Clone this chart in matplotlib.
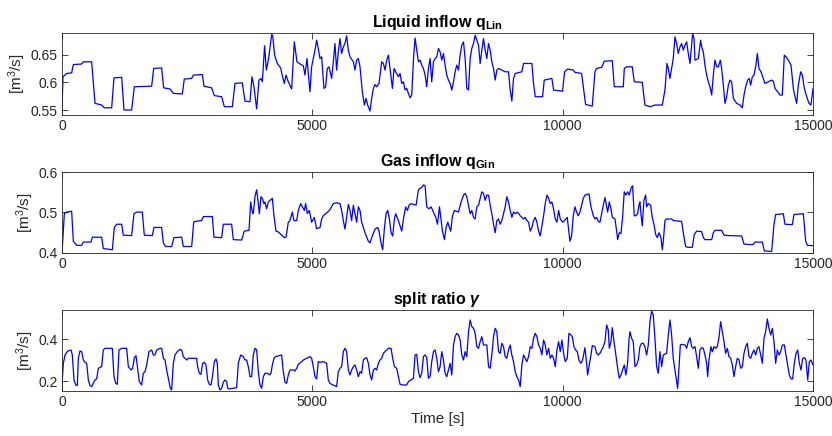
import matplotlib
matplotlib.use('Agg')
import matplotlib.pyplot as plt

plt.rcParams['font.family'] = ['Liberation Sans', 'DejaVu Sans']
plt.rcParams['mathtext.fontset'] = 'custom'
plt.rcParams['mathtext.rm'] = 'Liberation Sans'
plt.rcParams['mathtext.it'] = 'Liberation Sans:italic'
plt.rcParams['mathtext.bf'] = 'Liberation Sans:bold'
plt.rcParams['mathtext.bfit'] = 'Liberation Sans:italic:bold'

# ---------------- data ----------------
t_liq = [0, 20, 93, 193, 226, 393, 426, 592, 659, 792, 845, 992, 1038, 1192, 1238, 1391,
         1445, 1791, 1831, 1990, 2030, 2157, 2223, 2403, 2443, 2590, 2623, 2803, 2836, 2989,
         3042, 3189, 3242, 3402, 3455, 3601, 3655, 3755, 3794, 3834, 3888, 3934, 3974, 4001,
         4047, 4081, 4127, 4187, 4207, 4247, 4300, 4367, 4400, 4440, 4474, 4520, 4587, 4640,
         4693, 4773, 4820, 4853, 4893, 4953, 4986, 5053,
         5086, 5119, 5153, 5186, 5232, 5266, 5299, 5332, 5386, 5419, 5452, 5485, 5519, 5552,
         5585, 5619, 5652, 5685, 5719, 5752, 5819, 5852, 5885, 5919, 5952, 5999, 6039, 6072,
         6105, 6152, 6185, 6219, 6252, 6285, 6332, 6385, 6419, 6452, 6485, 6519, 6552, 6599,
         6632, 6665, 6719, 6752, 6785, 6819, 6852, 6885, 6919, 6952, 6985, 7025, 7052, 7085,
         7119, 7152, 7185, 7219, 7252, 7285, 7319, 7352, 7385, 7419, 7452, 7485, 7519, 7552,
         7585, 7619, 7652, 7685, 7719, 7752, 7785, 7819, 7852, 7885, 7919, 7952, 7985, 8019,
         8052, 8085, 8119, 8152, 8185, 8219, 8252, 8285, 8319, 8352, 8385, 8419, 8452, 8485,
         8519, 8552, 8585, 8619, 8652, 8685, 8719, 8852, 8918, 8952, 8985, 9018, 9052, 9185,
         9218, 9385, 9418, 9452, 9598, 9632, 9785, 9818, 9998, 10038,
         10099, 10212, 10245, 10378, 10412, 10458, 10591, 10645, 10678, 10778, 10831, 10991,
         11031, 11211, 11231, 11277, 11390, 11430, 11590, 11643, 11743, 11843, 11990, 12043,
         12083, 12110, 12143, 12176, 12209, 12243, 12276, 12309, 12343, 12376, 12409, 12443,
         12476, 12509, 12543, 12576, 12596, 12623, 12643, 12709, 12756, 12776, 12809, 12842,
         12876, 12909, 12942, 12976, 13009, 13042, 13076, 13109, 13149, 13175, 13209, 13242,
         13275, 13309, 13342, 13375, 13409, 13475, 13542, 13588, 13622, 13655, 13695, 13728,
         13755, 13788, 13821, 13861, 13888, 13921, 13961, 14008, 14041, 14108, 14174, 14208,
         14241, 14294, 14341, 14387, 14427, 14461, 14507, 14561, 14607, 14640, 14674, 14707,
         14754, 14787, 14827, 14874, 14920, 14960, 15000]
q_liq = [0.553, 0.610, 0.616, 0.617, 0.632, 0.633, 0.637, 0.637, 0.562, 0.559, 0.554, 0.554,
         0.608, 0.609, 0.550, 0.550, 0.592, 0.593, 0.625, 0.626, 0.590, 0.588, 0.580, 0.579,
         0.606, 0.607, 0.613, 0.614, 0.593, 0.590, 0.576, 0.574, 0.556, 0.556, 0.598, 0.599,
         0.566, 0.565, 0.610, 0.592, 0.552, 0.604, 0.607, 0.601, 0.666, 0.622, 0.643, 0.686,
         0.685, 0.649, 0.634, 0.626, 0.612, 0.598, 0.613, 0.601, 0.588, 0.673, 0.637, 0.632,
         0.630, 0.613, 0.643, 0.583, 0.628, 0.658,
         0.676, 0.661, 0.643, 0.646, 0.589, 0.592, 0.625, 0.628, 0.607, 0.637, 0.670, 0.622,
         0.655, 0.679, 0.652, 0.664, 0.670, 0.684, 0.658, 0.646, 0.637, 0.622, 0.640, 0.643,
         0.628, 0.583, 0.559, 0.571, 0.559, 0.548, 0.571, 0.589, 0.596, 0.592, 0.598, 0.637,
         0.634, 0.622, 0.640, 0.649, 0.625, 0.589, 0.625, 0.619, 0.610, 0.616, 0.598, 0.601,
         0.586, 0.589, 0.580, 0.572, 0.577, 0.649, 0.680, 0.658, 0.637, 0.640, 0.631, 0.625,
         0.613, 0.592, 0.625, 0.643, 0.601, 0.637, 0.643, 0.646, 0.661, 0.655, 0.640, 0.652,
         0.631, 0.613, 0.604, 0.598, 0.586, 0.601, 0.619, 0.631, 0.622, 0.649, 0.667, 0.673,
         0.643, 0.589, 0.586, 0.643, 0.661, 0.670, 0.685, 0.676, 0.667, 0.634, 0.658, 0.679,
         0.658, 0.643, 0.670, 0.658, 0.637, 0.625, 0.604, 0.622, 0.625, 0.619, 0.619, 0.586,
         0.566, 0.607, 0.616, 0.619, 0.634, 0.634, 0.598, 0.574, 0.574, 0.604, 0.607, 0.586,
         0.584, 0.619,
         0.624, 0.622, 0.618, 0.616, 0.592, 0.560, 0.557, 0.619, 0.625, 0.627, 0.638, 0.639,
         0.592, 0.592, 0.625, 0.628, 0.628, 0.601, 0.600, 0.559, 0.556, 0.559, 0.559, 0.586,
         0.634, 0.625, 0.607, 0.625, 0.643, 0.682, 0.670, 0.652, 0.664, 0.670, 0.658, 0.667,
         0.673, 0.652, 0.634, 0.667, 0.688, 0.679, 0.640, 0.643, 0.676, 0.664, 0.655, 0.631,
         0.613, 0.601, 0.592, 0.577, 0.613, 0.640, 0.628, 0.628, 0.640, 0.625, 0.595, 0.562,
         0.574, 0.595, 0.604, 0.601, 0.571, 0.562, 0.559, 0.554, 0.577, 0.592, 0.604, 0.607,
         0.595, 0.610, 0.613, 0.631, 0.652, 0.625, 0.619, 0.607, 0.598, 0.601, 0.604, 0.602,
         0.589, 0.583, 0.577, 0.577, 0.649, 0.646, 0.640, 0.631, 0.589, 0.574, 0.562, 0.595,
         0.619, 0.613, 0.589, 0.574, 0.562, 0.559, 0.589]

t_gas = [0, 47, 93, 193, 226, 293, 393, 426, 579, 606, 792, 825, 1005, 1045, 1092, 1192,
         1225, 1391, 1438, 1491, 1604, 1644, 1804, 1837, 1990, 2024, 2070, 2190, 2237, 2390,
         2423, 2590, 2630, 2656, 2789, 2823, 3002, 3036, 3189, 3222, 3388, 3422, 3588, 3641,
         3735, 3768, 3801, 3821, 3854, 3888, 3921, 3941, 3974, 4001, 4034, 4054, 4087, 4121,
         4174, 4201, 4234, 4274, 4320, 4387, 4440, 4474, 4520, 4553, 4600, 4633, 4687, 4720,
         4766, 4800, 4840, 4866, 4900, 4940, 4986, 5039,
         5086, 5153, 5186, 5219, 5266, 5306, 5352, 5419, 5485, 5552, 5585, 5619, 5652, 5685,
         5719, 5752, 5785, 5819, 5852, 5885, 5919, 5952, 5985, 6052, 6119, 6152, 6185, 6252,
         6305, 6332, 6372, 6405, 6438, 6472, 6505, 6539, 6572, 6605, 6639, 6665, 6719, 6785,
         6825, 6865, 6899, 6932, 6972, 7072, 7119, 7152, 7185, 7219, 7252, 7285, 7332, 7372,
         7419, 7465, 7499, 7539, 7565, 7599, 7639, 7672, 7705, 7739, 7765, 7799, 7839, 7919,
         7972, 8019, 8052, 8085, 8119, 8152, 8185, 8219, 8252, 8285, 8319, 8352, 8385, 8419,
         8452, 8485, 8519, 8552, 8585, 8619, 8652, 8685, 8719, 8752, 8785, 8819, 8852, 8885,
         8918, 8952, 8985, 9018, 9052, 9099, 9152, 9218, 9252, 9285, 9319, 9352, 9385, 9419,
         9452, 9485, 9519, 9552, 9585, 9619, 9652, 9685, 9719, 9752, 9785, 9818, 9852, 9885,
         9919, 9952, 9998, 10038,
         10092, 10145, 10178, 10212, 10245, 10278, 10312, 10345, 10378, 10412, 10445, 10525,
         10565, 10612, 10645, 10678, 10712, 10745, 10778, 10811, 10845, 10878, 10898, 10931,
         10965, 10991, 11045, 11078, 11098, 11131, 11164, 11197, 11230, 11264, 11297, 11330,
         11364, 11397, 11430, 11464, 11497, 11524, 11543, 11563, 11590, 11623, 11657, 11677,
         11710, 11757, 11790, 11823, 11857, 11890, 11923, 11963, 11990, 12010, 12043, 12076,
         12176, 12209, 12376, 12409, 12456, 12496, 12589, 12629, 12676, 12776, 12809, 12842,
         12976, 13009, 13042, 13175, 13222, 13309, 13575, 13622, 13708, 13808, 13841, 13988,
         14028, 14174, 14221, 14254, 14407, 14440, 14587, 14620, 14807, 14854, 14887, 15000]
q_gas = [0.400, 0.497, 0.501, 0.503, 0.429, 0.419, 0.419, 0.427, 0.427, 0.439, 0.439, 0.411,
         0.408, 0.463, 0.471, 0.471, 0.444, 0.443, 0.497, 0.501, 0.501, 0.444, 0.443, 0.463,
         0.463, 0.425, 0.416, 0.416, 0.438, 0.439, 0.416, 0.416, 0.476, 0.478, 0.480, 0.490,
         0.490, 0.439, 0.438, 0.471, 0.471, 0.433, 0.432, 0.454, 0.456, 0.526, 0.501, 0.497,
         0.539, 0.556, 0.522, 0.497, 0.539, 0.535, 0.522, 0.526, 0.509, 0.526, 0.532, 0.535,
         0.492, 0.454, 0.452, 0.444, 0.438, 0.439, 0.476, 0.480, 0.501, 0.480, 0.480, 0.505,
         0.522, 0.514, 0.505, 0.522, 0.497, 0.505, 0.476, 0.488,
         0.460, 0.463, 0.484, 0.492, 0.497, 0.501, 0.507, 0.522, 0.524, 0.522, 0.505, 0.480,
         0.459, 0.488, 0.520, 0.505, 0.480, 0.518, 0.497, 0.476, 0.514, 0.505, 0.476, 0.450,
         0.429, 0.425, 0.438, 0.459, 0.463, 0.454, 0.425, 0.408, 0.459, 0.497, 0.505, 0.484,
         0.450, 0.442, 0.484, 0.497, 0.480, 0.454, 0.488, 0.514, 0.505, 0.518, 0.522, 0.518,
         0.556, 0.560, 0.562, 0.568, 0.566, 0.514, 0.509, 0.514, 0.501, 0.488, 0.471, 0.514,
         0.488, 0.454, 0.433, 0.463, 0.476, 0.463, 0.454, 0.492, 0.505, 0.501, 0.526, 0.543,
         0.547, 0.539, 0.518, 0.497, 0.505, 0.488, 0.484, 0.514, 0.518, 0.535, 0.551, 0.547,
         0.530, 0.543, 0.543, 0.518, 0.497, 0.471, 0.450, 0.480, 0.484, 0.471, 0.480, 0.497,
         0.514, 0.539, 0.526, 0.505, 0.488, 0.501, 0.497, 0.501, 0.492, 0.484, 0.488, 0.480,
         0.476, 0.454, 0.463, 0.480, 0.488, 0.476, 0.454, 0.442, 0.467, 0.492, 0.522, 0.543,
         0.535, 0.522, 0.526, 0.509, 0.484, 0.476, 0.505, 0.484, 0.476, 0.480,
         0.488, 0.429, 0.442, 0.492, 0.514, 0.501, 0.492, 0.501, 0.518, 0.535, 0.543, 0.546,
         0.514, 0.492, 0.484, 0.488, 0.478, 0.476, 0.497, 0.518, 0.537, 0.514, 0.501, 0.526,
         0.509, 0.488, 0.484, 0.454, 0.433, 0.450, 0.448, 0.488, 0.551, 0.543, 0.551, 0.543,
         0.560, 0.566, 0.492, 0.492, 0.497, 0.518, 0.526, 0.497, 0.467, 0.530, 0.543, 0.514,
         0.522, 0.518, 0.488, 0.471, 0.446, 0.438, 0.450, 0.438, 0.408, 0.429, 0.480, 0.484,
         0.484, 0.480, 0.478, 0.450, 0.416, 0.414, 0.414, 0.446, 0.454, 0.453, 0.438, 0.433,
         0.433, 0.450, 0.456, 0.456, 0.444, 0.443, 0.442, 0.422, 0.421, 0.421, 0.427, 0.427,
         0.405, 0.404, 0.471, 0.495, 0.497, 0.471, 0.470, 0.495, 0.497, 0.429, 0.419, 0.418]

t_split = [0, 27, 60, 113, 180, 206, 240, 273, 306, 326, 359, 393, 426, 459, 493, 526, 559,
           592, 626, 659, 692, 726, 792, 825, 859, 1005, 1038, 1072, 1105, 1138, 1192, 1291,
           1325, 1378, 1411, 1445, 1478, 1511, 1544, 1591, 1624, 1658, 1691, 1737, 1791, 1824,
           1857, 1891, 1957, 1990, 2024, 2057, 2090, 2124, 2164, 2190, 2223, 2257, 2303, 2357,
           2390, 2423, 2490, 2523, 2689, 2709, 2743, 2776, 2809, 2843, 2876, 2909, 2942, 2976,
           3009, 3042, 3076, 3102, 3122, 3155, 3189, 3222, 3255, 3289, 3309, 3342, 3488, 3522,
           3568, 3621, 3655, 3688, 3721, 3755, 3788, 3821, 3854, 3888, 3921, 3954, 3988, 4021,
           4054, 4107, 4141, 4174, 4201, 4234, 4267, 4387, 4420, 4454, 4487, 4520, 4553, 4620,
           4653, 4687, 4720, 4786, 4820, 4886, 4953, 4986, 5019, 5053,
           5086, 5119, 5153, 5219, 5286, 5319, 5352, 5386, 5485, 5519, 5552, 5585, 5619, 5652,
           5685, 5719, 5752, 5785, 5819, 5852, 5885, 5919, 5952, 5985, 6019, 6052, 6085, 6119,
           6152, 6185, 6219, 6252, 6285, 6319, 6352, 6385, 6419, 6452, 6485, 6519, 6572, 6605,
           6639, 6685, 6719, 6752, 6799, 6885, 6919, 6972, 7019, 7052, 7085, 7119, 7152, 7185,
           7219, 7252, 7285, 7319, 7352, 7385, 7419, 7452, 7485, 7519, 7552, 7585, 7619, 7652,
           7685, 7719, 7752, 7785, 7819, 7852, 7885, 7919, 7952, 7985, 8019, 8052, 8085, 8119,
           8152, 8185, 8219, 8252, 8285, 8319, 8352, 8385, 8419, 8485, 8519, 8552, 8585, 8619,
           8652, 8685, 8719, 8752, 8785, 8819, 8852, 8885, 8918, 8952, 8985, 9018, 9052, 9085,
           9119, 9152, 9185, 9218, 9252, 9285, 9319, 9352, 9385, 9419, 9452, 9485, 9519, 9552,
           9585, 9619, 9652, 9685, 9719, 9752, 9785, 9818, 9852, 9885, 9919, 9952, 9985, 10018,
           10052,
           10092, 10125, 10165, 10192, 10225, 10258, 10292, 10325, 10365, 10398, 10445, 10478,
           10498, 10532, 10565, 10592, 10645, 10678, 10712, 10745, 10778, 10811, 10845, 10878,
           10911, 10931, 10965, 10991, 11025, 11058, 11098, 11131, 11164, 11197, 11230, 11264,
           11297, 11324, 11344, 11377, 11410, 11444, 11477, 11510, 11543, 11577, 11610, 11643,
           11677, 11710, 11743, 11777, 11810, 11843, 11877, 11910, 11943, 11977, 12010, 12076,
           12110, 12143, 12176, 12209, 12243, 12276, 12296, 12323, 12350, 12376, 12443, 12476,
           12509, 12543, 12576, 12609, 12643, 12676, 12709, 12742, 12776, 12809, 12842, 12876,
           12896, 12922, 12962, 12989, 13022, 13056, 13089, 13122, 13155, 13189, 13222, 13255,
           13289, 13322, 13355, 13389, 13422, 13455, 13488, 13522, 13555, 13588, 13622, 13655,
           13688, 13722, 13755, 13788, 13821, 13855, 13888, 13921, 13955, 13988, 14021, 14054,
           14088, 14121, 14154, 14188, 14221, 14254, 14288, 14321, 14354, 14387, 14427, 14461,
           14494, 14527, 14561, 14594, 14627, 14661, 14694, 14727, 14760, 14794, 14827, 14860,
           14894, 14927, 14960, 15000]
gamma = [0.181, 0.285, 0.325, 0.344, 0.349, 0.325, 0.205, 0.181, 0.178, 0.309, 0.344, 0.341,
         0.301, 0.290, 0.285, 0.205, 0.178, 0.173, 0.189, 0.205, 0.210, 0.261, 0.269, 0.349,
         0.357, 0.357, 0.221, 0.189, 0.184, 0.349, 0.357, 0.357, 0.269, 0.253, 0.261, 0.312,
         0.322, 0.261, 0.197, 0.181, 0.237, 0.245, 0.277, 0.341, 0.349, 0.325, 0.325, 0.349,
         0.357, 0.357, 0.309, 0.301, 0.253, 0.213, 0.165, 0.157, 0.285, 0.325, 0.341, 0.352,
         0.349, 0.317, 0.301, 0.309, 0.309, 0.269, 0.237, 0.232, 0.285, 0.290, 0.277, 0.205,
         0.184, 0.181, 0.229, 0.293, 0.306, 0.285, 0.181, 0.157, 0.165, 0.194, 0.205, 0.197,
         0.165, 0.162, 0.168, 0.285, 0.325, 0.317, 0.301, 0.301, 0.269, 0.221, 0.221, 0.325,
         0.357, 0.349, 0.245, 0.181, 0.165, 0.221, 0.237, 0.237, 0.229, 0.237, 0.277, 0.309,
         0.317, 0.325, 0.245, 0.194, 0.189, 0.229, 0.253, 0.253, 0.248, 0.261, 0.280, 0.293,
         0.301, 0.309, 0.317, 0.309, 0.269, 0.221,
         0.210, 0.293, 0.290, 0.293, 0.285, 0.205, 0.189, 0.184, 0.173, 0.245, 0.261, 0.269,
         0.341, 0.357, 0.341, 0.253, 0.229, 0.253, 0.269, 0.277, 0.253, 0.221, 0.245, 0.237,
         0.301, 0.309, 0.312, 0.285, 0.229, 0.205, 0.253, 0.261, 0.253, 0.285, 0.301, 0.309,
         0.333, 0.341, 0.349, 0.357, 0.357, 0.309, 0.269, 0.261, 0.221, 0.184, 0.181, 0.181,
         0.197, 0.205, 0.213, 0.325, 0.328, 0.245, 0.216, 0.237, 0.317, 0.325, 0.312, 0.213,
         0.221, 0.293, 0.341, 0.349, 0.309, 0.245, 0.269, 0.341, 0.301, 0.237, 0.221, 0.253,
         0.285, 0.229, 0.373, 0.413, 0.429, 0.421, 0.397, 0.325, 0.301, 0.341, 0.317, 0.437,
         0.493, 0.461, 0.453, 0.429, 0.365, 0.357, 0.389, 0.413, 0.373, 0.373, 0.269, 0.261,
         0.325, 0.413, 0.453, 0.437, 0.341, 0.333, 0.381, 0.365, 0.317, 0.309, 0.349, 0.373,
         0.325, 0.293, 0.245, 0.221, 0.205, 0.173, 0.277, 0.325, 0.309, 0.293, 0.317, 0.365,
         0.357, 0.405, 0.429, 0.413, 0.373, 0.357, 0.325, 0.397, 0.373, 0.325, 0.357, 0.309,
         0.325, 0.309, 0.269, 0.349, 0.389, 0.341, 0.397, 0.333, 0.293,
         0.309, 0.429, 0.421, 0.413, 0.365, 0.349, 0.341, 0.301, 0.285, 0.301, 0.360, 0.285,
         0.229, 0.277, 0.325, 0.370, 0.365, 0.333, 0.325, 0.333, 0.349, 0.365, 0.389, 0.469,
         0.445, 0.357, 0.389, 0.456, 0.389, 0.333, 0.261, 0.213, 0.229, 0.253, 0.277, 0.229,
         0.285, 0.397, 0.437, 0.405, 0.389, 0.269, 0.277, 0.301, 0.365, 0.381, 0.381, 0.365,
         0.325, 0.373, 0.485, 0.536, 0.517, 0.405, 0.269, 0.237, 0.341, 0.269, 0.325, 0.333,
         0.421, 0.493, 0.421, 0.309, 0.253, 0.197, 0.165, 0.261, 0.373, 0.376, 0.373, 0.357,
         0.389, 0.408, 0.365, 0.357, 0.365, 0.317, 0.261, 0.349, 0.360, 0.357, 0.325, 0.285,
         0.221, 0.301, 0.365, 0.341, 0.365, 0.357, 0.365, 0.408, 0.485, 0.437, 0.389, 0.333,
         0.357, 0.317, 0.309, 0.277, 0.221, 0.269, 0.309, 0.301, 0.261, 0.269, 0.333, 0.365,
         0.381, 0.317, 0.309, 0.333, 0.349, 0.325, 0.357, 0.365, 0.325, 0.285, 0.405, 0.437,
         0.498, 0.453, 0.421, 0.453, 0.389, 0.285, 0.349, 0.325, 0.341, 0.373, 0.373, 0.325,
         0.277, 0.229, 0.210, 0.210, 0.285, 0.333, 0.349, 0.285, 0.253, 0.309, 0.312, 0.301,
         0.205, 0.293, 0.301, 0.277]

titles = [r'Liquid inflow $\mathbf{q_{Lin}}$', r'Gas inflow $\mathbf{q_{Gin}}$',
          r'split ratio $\mathbfit{\gamma}$']
ylims = [(0.541, 0.689), (0.4, 0.6), (0.152, 0.541)]
yticks = [[0.55, 0.6, 0.65], [0.4, 0.5, 0.6], [0.2, 0.4]]
yticklabels = [['0.55', '0.6', '0.65'], ['0.4', '0.5', '0.6'], ['0.2', '0.4']]
xticks = [0, 5000, 10000, 15000]
ylabel = r'[m$^3$/s]'
xlabel = 'Time [s]'

# ---------------- layout ----------------
W, H = 832, 436
fig = plt.figure(figsize=(W / 100, H / 100), dpi=100)
left, right = 62, 813
boxes = [(33, 115), (172, 253), (310, 391)]
series = [(t_liq, q_liq), (t_gas, q_gas), (t_split, gamma)]
axc = '#262626'

for i, ((top, bot), (tx, yv)) in enumerate(zip(boxes, series)):
    ax = fig.add_axes([left / W, 1 - bot / H, (right - left) / W, (bot - top) / H])
    ax.plot(tx, yv, color='#0000ff', lw=0.9)
    ax.set_xlim(0, 15000)
    ax.set_ylim(*ylims[i])
    ax.set_xticks(xticks)
    ax.set_xticklabels([str(v) for v in xticks])
    ax.set_yticks(yticks[i])
    ax.set_yticklabels(yticklabels[i])
    ax.tick_params(direction='in', top=True, right=True, length=4, width=0.6,
                   labelsize=10, colors=axc, pad=3)
    for s in ax.spines.values():
        s.set_color(axc)
        s.set_linewidth(0.6)
    ax.set_title(titles[i], fontsize=11.5, fontweight='bold', color='black', pad=4)
    ax.set_ylabel(ylabel, fontsize=11, color=axc, labelpad=2)
    if i == 2:
        ax.set_xlabel(xlabel, fontsize=11, color=axc, labelpad=2)

fig.savefig('out.png', dpi=100)
